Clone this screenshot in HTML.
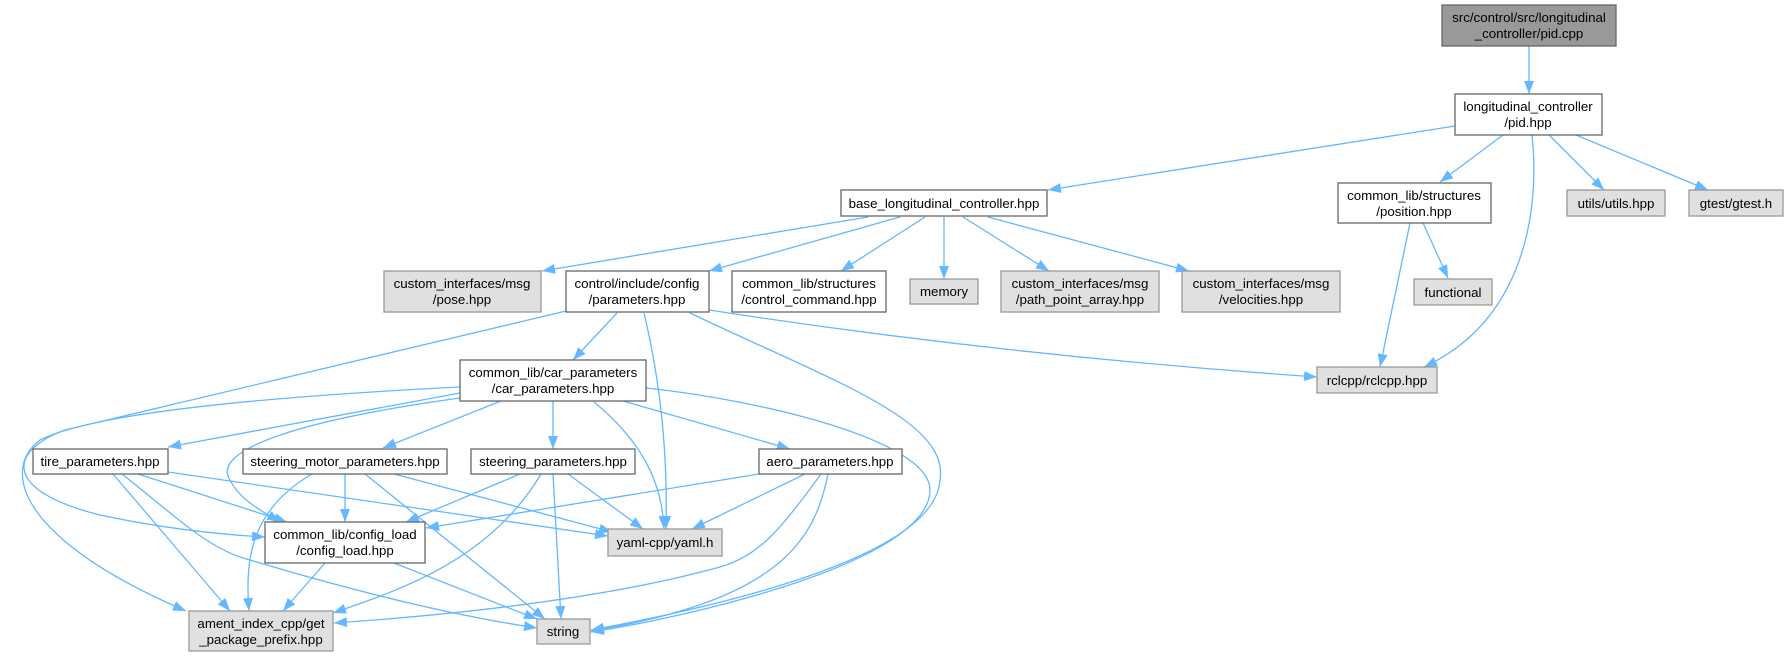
<!DOCTYPE html>
<html><head><meta charset="utf-8"><style>
html,body{margin:0;padding:0;background:#fff;}
svg{display:block;}
text{font-family:"Liberation Sans",Arial,sans-serif;font-size:13.3px;fill:#000;text-anchor:middle;}
.e{fill:none;stroke:#63b8ff;stroke-width:1.3;marker-end:url(#a);}
.w{fill:#fff;stroke:#666;stroke-width:1.3;}
.g{fill:#e0e0e0;stroke:#999;stroke-width:1.3;}
.d{fill:#999;stroke:#666;stroke-width:1.3;}
</style></head><body>
<svg width="1788" height="657" viewBox="0 0 1788 657" xmlns="http://www.w3.org/2000/svg">
<defs><marker id="a" markerUnits="userSpaceOnUse" markerWidth="14" markerHeight="12" refX="13" refY="5" orient="auto"><path d="M0,0 L13,5 L0,10 z" fill="#63b8ff"/></marker></defs>
<g>
<path class="e" d="M1529,46 L1529,94"/>
<path class="e" d="M1455,126 L1048,190"/>
<path class="e" d="M1503,135 L1440,182"/>
<path class="e" d="M1532,135 C1540,210 1525,320 1424,367"/>
<path class="e" d="M1549,135 L1604,190"/>
<path class="e" d="M1576,135 L1708,190"/>
<path class="e" d="M1423,223 L1448,278"/>
<path class="e" d="M1410,223 L1380,367"/>
<path class="e" d="M868,217 L542,271"/>
<path class="e" d="M900,217 L709,271"/>
<path class="e" d="M925,217 L841,271"/>
<path class="e" d="M944,217 L944,279"/>
<path class="e" d="M963,217 L1049,271"/>
<path class="e" d="M988,217 L1189,271"/>
<path class="e" d="M617,313 L573,360"/>
<path class="e" d="M644,313 C660,380 668,450 666,529"/>
<path class="e" d="M690,313 C830,380 950,420 940,480 C935,560 700,610 591,630"/>
<path class="e" d="M709,310 Q1000,355 1317,377"/>
<path class="e" d="M566,311 L65,430 C10,450 0,490 100,515 C170,530 230,535 265,537"/>
<path class="e" d="M460,393 L168,447"/>
<path class="e" d="M460,387 C300,395 100,410 40,440 C0,470 20,540 186,611"/>
<path class="e" d="M460,398 C300,420 210,450 230,480 C240,500 260,510 280,522"/>
<path class="e" d="M501,401 L383,448"/>
<path class="e" d="M553,401 L553,449"/>
<path class="e" d="M623,401 L790,449"/>
<path class="e" d="M594,402 C640,440 662,480 664,529"/>
<path class="e" d="M646,388 C760,400 930,440 930,490 C930,560 700,615 591,632"/>
<path class="e" d="M138,474 L287,522"/>
<path class="e" d="M113,474 L230,611"/>
<path class="e" d="M122,474 C180,520 210,550 250,560 C350,590 450,615 537,628"/>
<path class="e" d="M168,472 L608,536"/>
<path class="e" d="M345,474 L345,522"/>
<path class="e" d="M312,474 C250,510 245,560 249,611"/>
<path class="e" d="M365,474 L545,619"/>
<path class="e" d="M394,474 L612,532"/>
<path class="e" d="M520,474 L406,522"/>
<path class="e" d="M541,474 C490,560 400,590 333,613"/>
<path class="e" d="M553,474 L561,619"/>
<path class="e" d="M568,474 L643,529"/>
<path class="e" d="M759,474 L426,528"/>
<path class="e" d="M805,474 L692,529"/>
<path class="e" d="M821,474 C780,530 760,555 720,567 C600,600 450,615 334,623"/>
<path class="e" d="M828,474 C815,540 780,600 591,631"/>
<path class="e" d="M325,563 L283,611"/>
<path class="e" d="M394,563 L537,619"/>
</g>
<g>
<rect class="d" x="1442" y="5" width="174" height="41"/><text x="1529" y="22">src/control/src/longitudinal</text><text x="1529" y="38">_controller/pid.cpp</text>
<rect class="w" x="1455" y="94" width="147" height="41"/><text x="1528" y="111">longitudinal_controller</text><text x="1528" y="127">/pid.hpp</text>
<rect class="w" x="841" y="190" width="206" height="26"/><text x="944" y="208">base_longitudinal_controller.hpp</text>
<rect class="w" x="1338" y="183" width="153" height="40"/><text x="1414" y="200">common_lib/structures</text><text x="1414" y="216">/position.hpp</text>
<rect class="g" x="1567" y="190" width="98" height="26"/><text x="1616" y="208">utils/utils.hpp</text>
<rect class="g" x="1689" y="190" width="94" height="26"/><text x="1736" y="208">gtest/gtest.h</text>
<rect class="g" x="384" y="271" width="157" height="41"/><text x="462" y="288">custom_interfaces/msg</text><text x="462" y="304">/pose.hpp</text>
<rect class="w" x="566" y="271" width="143" height="41"/><text x="637" y="288">control/include/config</text><text x="637" y="304">/parameters.hpp</text>
<rect class="w" x="732" y="271" width="154" height="41"/><text x="809" y="288">common_lib/structures</text><text x="809" y="304">/control_command.hpp</text>
<rect class="g" x="910" y="279" width="68" height="25"/><text x="944" y="296">memory</text>
<rect class="g" x="1001" y="271" width="158" height="41"/><text x="1080" y="288">custom_interfaces/msg</text><text x="1080" y="304">/path_point_array.hpp</text>
<rect class="g" x="1182" y="271" width="158" height="41"/><text x="1261" y="288">custom_interfaces/msg</text><text x="1261" y="304">/velocities.hpp</text>
<rect class="g" x="1414" y="279" width="78" height="26"/><text x="1453" y="297">functional</text>
<rect class="g" x="1317" y="367" width="120" height="26"/><text x="1377" y="385">rclcpp/rclcpp.hpp</text>
<rect class="w" x="460" y="360" width="186" height="41"/><text x="553" y="377">common_lib/car_parameters</text><text x="553" y="393">/car_parameters.hpp</text>
<rect class="w" x="33" y="449" width="135" height="25"/><text x="100" y="466">tire_parameters.hpp</text>
<rect class="w" x="243" y="449" width="204" height="25"/><text x="345" y="466">steering_motor_parameters.hpp</text>
<rect class="w" x="471" y="449" width="164" height="25"/><text x="553" y="466">steering_parameters.hpp</text>
<rect class="w" x="759" y="449" width="143" height="25"/><text x="830" y="466">aero_parameters.hpp</text>
<rect class="w" x="265" y="522" width="160" height="41"/><text x="345" y="539">common_lib/config_load</text><text x="345" y="555">/config_load.hpp</text>
<rect class="g" x="608" y="529" width="114" height="27"/><text x="665" y="547">yaml-cpp/yaml.h</text>
<rect class="g" x="189" y="611" width="144" height="40"/><text x="261" y="628">ament_index_cpp/get</text><text x="261" y="644">_package_prefix.hpp</text>
<rect class="g" x="537" y="619" width="53" height="25"/><text x="563" y="636">string</text>
</g>
</svg>
</body></html>
